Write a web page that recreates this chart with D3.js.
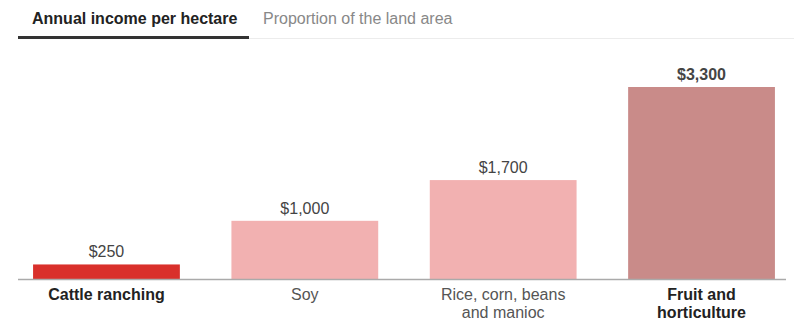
<!DOCTYPE html>
<html>
<head>
<meta charset="utf-8">
<script src="https://cdn.jsdelivr.net/npm/d3@7"></script>
<style>
  html, body { margin: 0; padding: 0; background: #fff; }
  svg { display: block; font-family: "Liberation Sans", Arial, Helvetica, sans-serif; }
</style>
</head>
<body>
<svg id="chart" width="794" height="323"></svg>
<script>
// Annual income per hectare by land use
const categories = ["Cattle ranching", "Soy", "Rice, corn, beans and manioc", "Fruit and horticulture"];
const categoryLines = [["Cattle ranching"], ["Soy"], ["Rice, corn, beans", "and manioc"], ["Fruit and", "horticulture"]];
const incomeValues = [250, 1000, 1700, 3300];
const valueLabels = ["$250", "$1,000", "$1,700", "$3,300"];
const barColors = ["#d9302b", "#f2b1b1", "#f2b1b1", "#c98b89"];
const boldCategory = [true, false, false, true];
const tabLabels = ["Annual income per hectare", "Proportion of the land area"];

const svg = d3.select("#chart");
const W = 794;
const baseline = 279;
const fs = 16;

// Tabs
svg.append("line")
  .attr("x1", 18).attr("x2", W).attr("y1", 38.5).attr("y2", 38.5)
  .attr("stroke", "#ececec").attr("stroke-width", 1);
svg.append("rect")
  .attr("x", 18).attr("y", 36).attr("width", 231).attr("height", 3)
  .attr("fill", "#333");
svg.append("text")
  .attr("x", 32).attr("y", 24)
  .attr("font-size", fs).attr("font-weight", "bold").attr("fill", "#222")
  .text(tabLabels[0]);
svg.append("text")
  .attr("x", 263).attr("y", 24)
  .attr("font-size", fs).attr("fill", "#888")
  .text(tabLabels[1]);

// Scales
const x = d3.scaleBand()
  .domain(categories)
  .range([18, 790])
  .paddingInner(0.26)
  .paddingOuter(0.076);

const y = d3.scaleLinear()
  .domain([0, 3300])
  .range([baseline, 87]);

// Bars
svg.append("g").selectAll("rect")
  .data(categories)
  .join("rect")
  .attr("x", d => x(d))
  .attr("width", x.bandwidth())
  .attr("y", (d, i) => y(incomeValues[i]))
  .attr("height", (d, i) => baseline - y(incomeValues[i]))
  .attr("fill", (d, i) => barColors[i]);

// Value labels
svg.append("g").selectAll("text")
  .data(categories)
  .join("text")
  .attr("x", d => x(d) + x.bandwidth() / 2)
  .attr("y", (d, i) => y(incomeValues[i]) - 7)
  .attr("text-anchor", "middle")
  .attr("font-size", fs)
  .attr("font-weight", (d, i) => i === 3 ? "bold" : "normal")
  .attr("fill", "#444")
  .text((d, i) => valueLabels[i]);

// Baseline axis
svg.append("line")
  .attr("x1", 18).attr("x2", 786)
  .attr("y1", baseline + 0.5).attr("y2", baseline + 0.5)
  .attr("stroke", "#aaa").attr("stroke-width", 1.5);

// Category labels
const catG = svg.append("g").selectAll("text")
  .data(categories)
  .join("text")
  .attr("x", d => x(d) + x.bandwidth() / 2)
  .attr("y", 300)
  .attr("text-anchor", "middle")
  .attr("font-size", fs)
  .attr("font-weight", (d, i) => boldCategory[i] ? "bold" : "normal")
  .attr("fill", (d, i) => boldCategory[i] ? "#222" : "#555");

catG.each(function(d, i) {
  const t = d3.select(this);
  categoryLines[i].forEach((line, j) => {
    t.append("tspan")
      .attr("x", x(d) + x.bandwidth() / 2)
      .attr("dy", j === 0 ? 0 : 18)
      .text(line);
  });
});
</script>
</body>
</html>
